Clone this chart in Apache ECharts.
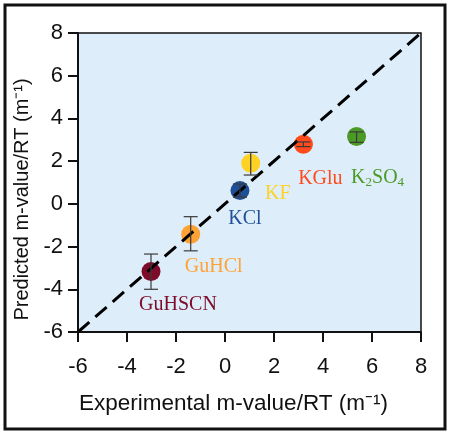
<!DOCTYPE html>
<html><head><meta charset="utf-8">
<script src="https://cdn.jsdelivr.net/npm/echarts@6/dist/echarts.min.js"></script>
<style>html,body{margin:0;padding:0;background:#fff}#c{width:450px;height:434px}</style>
</head><body><div id="c"></div>
<script>
const names = ['GuHSCN','GuHCl','KCl','KF','KGlu','K2SO4'];
const expX = [-3.02, -1.4, 0.61, 1.05, 3.2, 5.37];
const predY = [-3.17, -1.42, 0.62, 1.9, 2.79, 3.15];
const errLow = [-4.0, -2.2, 0.32, 1.35, 2.68, 2.88];
const errHigh = [-2.35, -0.6, 0.93, 2.41, 2.9, 3.37];
const ticks = [-6, -4, -2, 0, 2, 4, 6, 8];
const identityLine = [[-6, -6], [8, 8]];

const colors = {GuHSCN:'#7d0b2a', GuHCl:'#ffa236', KCl:'#1f4f97', KF:'#fdd224', KGlu:'#ff4a1c', K2SO4:'#4b9a27'};
const labelOffsets = {GuHSCN:[27,33], GuHCl:[23,33], KCl:[5,28], KF:[27,30], KGlu:[17,34], K2SO4:[21,41]};

const labelText = n => n === 'K2SO4' ? '{a|K}{s|2}{a|SO}{s|4}' : '{a|' + n + '}';

const chart = echarts.init(document.getElementById('c'));
chart.setOption({
  animation: false,
  graphic: [{type:'rect', shape:{x:5, y:5, width:440, height:424}, style:{fill:'none', stroke:'#111', lineWidth:3}, z:100}],
  grid: {left:78, right:29, top:33, bottom:102, show:true, backgroundColor:'#ddeefa', borderColor:'#111', borderWidth:1.5},
  xAxis: {
    type:'value', min:ticks[0], max:ticks[ticks.length-1], interval:2,
    name:'Experimental m-value/RT (m\u207B\u00B9)', nameLocation:'middle', nameGap:60,
    nameTextStyle:{fontFamily:'Liberation Sans, Arial', fontSize:22.5, color:'#111', padding:[0,32,0,0]},
    axisLine:{onZero:false, lineStyle:{color:'#111', width:2}},
    axisTick:{length:10, lineStyle:{color:'#111', width:2}},
    axisLabel:{margin:24, fontFamily:'Liberation Sans, Arial', fontSize:22, color:'#111'},
    splitLine:{show:false}
  },
  yAxis: {
    type:'value', min:ticks[0], max:ticks[ticks.length-1], interval:2,
    name:'Predicted m-value/RT (m\u207B\u00B9)', nameLocation:'middle', nameGap:42, nameRotate:90,
    nameTextStyle:{fontFamily:'Liberation Sans, Arial', fontSize:20, color:'#111', padding:[0,34,0,0]},
    axisLine:{onZero:false, lineStyle:{color:'#111', width:2}},
    axisTick:{length:10, lineStyle:{color:'#111', width:2}},
    axisLabel:{margin:15, fontFamily:'Liberation Sans, Arial', fontSize:22, color:'#111'},
    splitLine:{show:false}
  },
  series: [
    {type:'scatter', symbolSize:19, z:2,
     data: names.map((n,i)=>({
       value:[expX[i], predY[i]], name:n,
       itemStyle:{color:colors[n], opacity:1},
       label:{show:true, position:'inside', offset:labelOffsets[n], formatter:labelText(n),
         rich:{a:{fontFamily:'Liberation Serif, Times New Roman, serif', fontSize:20, color:colors[n]},
               s:{fontFamily:'Liberation Serif, Times New Roman, serif', fontSize:13, color:colors[n], padding:[9,0,0,0]}}}
     }))},
    {type:'line', data:identityLine, symbol:'none', lineStyle:{color:'#000', width:3, type:[15,8]}, z:3, silent:true},
    {type:'custom', z:4, silent:true,
     data: names.map((n,i)=>[expX[i], errLow[i], errHigh[i]]),
     renderItem: (params, api) => {
       const lo = api.coord([api.value(0), api.value(1)]);
       const hi = api.coord([api.value(0), api.value(2)]);
       const w = 7;
       const st = {stroke:'#3a3a3a', lineWidth:1.2};
       return {type:'group', children:[
         {type:'line', shape:{x1:lo[0], y1:lo[1], x2:hi[0], y2:hi[1]}, style:st},
         {type:'line', shape:{x1:lo[0]-w, y1:lo[1], x2:lo[0]+w, y2:lo[1]}, style:st},
         {type:'line', shape:{x1:hi[0]-w, y1:hi[1], x2:hi[0]+w, y2:hi[1]}, style:st}
       ]};
     }}
  ]
});
</script></body></html>
